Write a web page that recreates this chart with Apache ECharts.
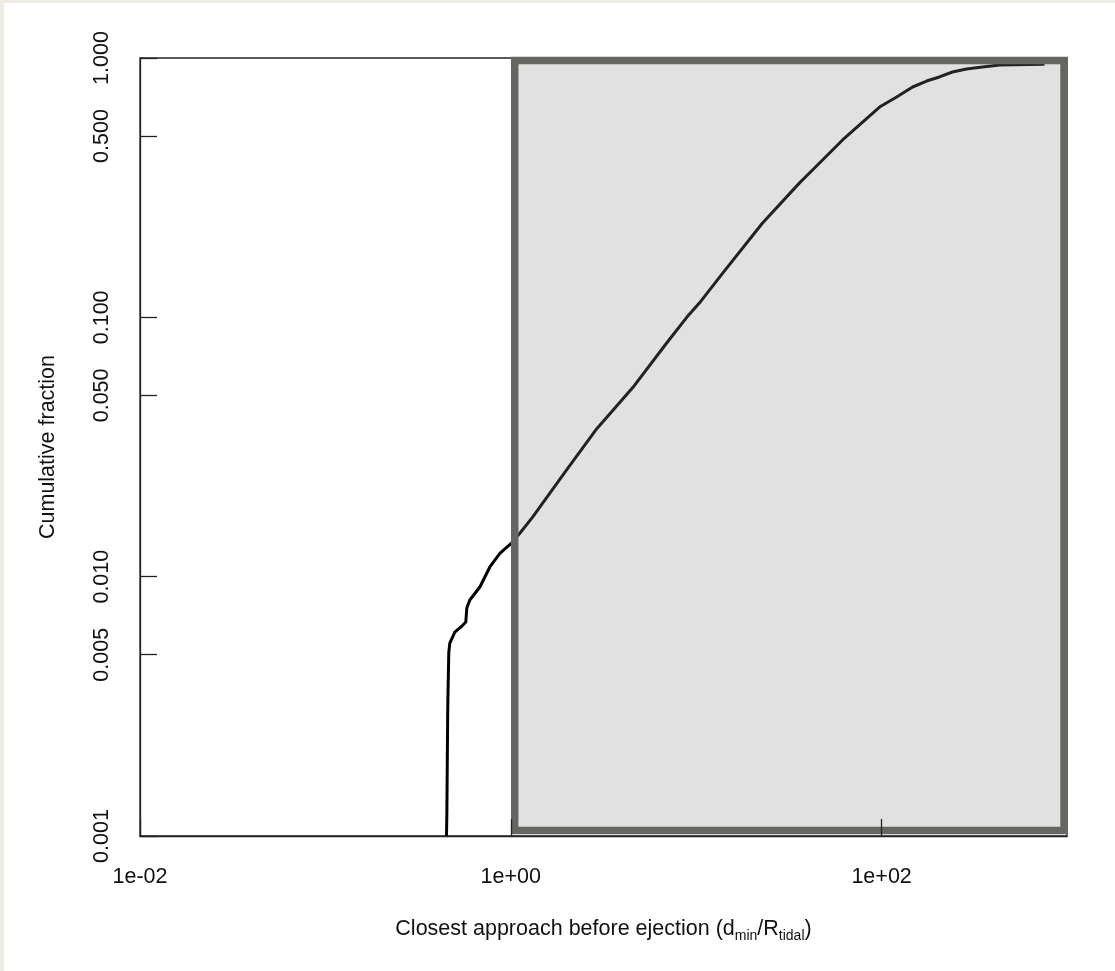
<!DOCTYPE html>
<html>
<head>
<meta charset="utf-8">
<script src="https://cdn.jsdelivr.net/npm/echarts@6/dist/echarts.min.js"></script>
<style>
  html, body { margin: 0; padding: 0; background: #eeece4; }
  #panel { position: absolute; left: 4px; top: 3px; width: 1111px; height: 968px; background: #ffffff; }
  #main { position: absolute; left: 0; top: 0; width: 1115px; height: 971px; }
</style>
</head>
<body>
<div id="panel"></div>
<div id="main"></div>
<script>
// cumulative fraction vs closest approach (d_min / R_tidal)
var approach = [0.450, 0.452, 0.457, 0.463, 0.469, 0.499, 0.545, 0.572, 0.579, 0.601, 0.681, 0.771, 0.873, 1.012, 1.119, 1.314, 2.00, 2.91, 4.55, 6.93, 8.89, 10.4, 13.9, 22.8, 36.1, 42.4, 61.6, 97.5, 120.5, 147, 175, 205, 241, 287, 350, 433, 756];
var cumFraction = [0.001, 0.00123, 0.00314, 0.00512, 0.00554, 0.00611, 0.00645, 0.00669, 0.00757, 0.00813, 0.00912, 0.0109, 0.0123, 0.0135, 0.0147, 0.0170, 0.0258, 0.0372, 0.0536, 0.0796, 0.100, 0.1135, 0.148, 0.231, 0.330, 0.370, 0.483, 0.647, 0.707, 0.773, 0.815, 0.845, 0.883, 0.907, 0.923, 0.940, 0.945];

// shaded region (data units)
var shadeX = [1.05, 964];
var shadeY = [0.00105, 0.979];

var xTickValues = [0.01, 1, 100];
var xTickLabels = ['1e-02', '1e+00', '1e+02'];
var yTickValues = [0.001, 0.005, 0.01, 0.05, 0.1, 0.5, 1];
var yTickLabels = ['0.001', '0.005', '0.010', '0.050', '0.100', '0.500', '1.000'];

function nearestLabel(vals, labels, v) {
  var best = 0;
  for (var i = 0; i < vals.length; i++) {
    if (Math.abs(Math.log10(vals[i]) - Math.log10(v)) < Math.abs(Math.log10(vals[best]) - Math.log10(v))) best = i;
  }
  return labels[best];
}

var myChart = echarts.init(document.getElementById('main'));
var font = '"Liberation Sans", Arial, sans-serif';

var option = {
  backgroundColor: 'transparent',
  animation: false,
  grid: {
    left: 140, top: 58, right: 48, bottom: 135,
    show: true, borderColor: '#222', borderWidth: 1.3, backgroundColor: 'transparent'
  },
  xAxis: {
    type: 'log', logBase: 10, min: 0.01, max: 1000,
    z: 5,
    name: 'Closest approach before ejection (d{sub|min}/R{sub|tidal})',
    nameLocation: 'middle', nameGap: 79,
    nameTextStyle: {
      fontFamily: font, fontSize: 21.5, color: '#111', lineHeight: 28,
      rich: { sub: { fontFamily: font, fontSize: 14, lineHeight: 14, verticalAlign: 'bottom', color: '#111' } }
    },
    axisLine: { show: true, onZero: false, lineStyle: { color: '#222', width: 1.3 } },
    axisTick: { show: true, inside: true, length: 17, customValues: xTickValues, lineStyle: { color: '#222', width: 1.3 } },
    axisLabel: {
      customValues: xTickValues, margin: 30, fontFamily: font, fontSize: 21.5, color: '#111',
      formatter: function (v) { return nearestLabel(xTickValues, xTickLabels, v); }
    },
    splitLine: { show: false }, minorTick: { show: false }
  },
  yAxis: {
    type: 'log', logBase: 10, min: 0.001, max: 1,
    z: 5,
    name: 'Cumulative fraction',
    nameLocation: 'middle', nameGap: 81,
    nameTextStyle: { fontFamily: font, fontSize: 21.5, color: '#111' },
    axisLine: { show: true, onZero: false, lineStyle: { color: '#222', width: 1.3 } },
    axisTick: { show: true, inside: true, length: 17, customValues: yTickValues, lineStyle: { color: '#222', width: 1.3 } },
    axisLabel: {
      customValues: yTickValues, rotate: 90, margin: 27, fontFamily: font, fontSize: 21.5, color: '#111',
      formatter: function (v) { return nearestLabel(yTickValues, yTickLabels, v); }
    },
    splitLine: { show: false }, minorTick: { show: false }
  },
  series: [
    {
      type: 'line',
      z: 2,
      data: approach.map(function (x, i) { return [x, cumFraction[i]]; }),
      showSymbol: false,
      symbol: 'none',
      smooth: false,
      lineStyle: { color: '#000', width: 3, join: 'round' }
    },
    {
      type: 'line',
      z: 4,
      data: [],
      markArea: {
        z: 4,
        silent: true,
        itemStyle: { color: 'rgba(135,135,135,0.25)', borderColor: '#656561', borderWidth: 7.5 },
        data: [[{ coord: [shadeX[0], shadeY[0]] }, { coord: [shadeX[1], shadeY[1]] }]]
      }
    }
  ]
};
myChart.setOption(option);
</script>
</body>
</html>
